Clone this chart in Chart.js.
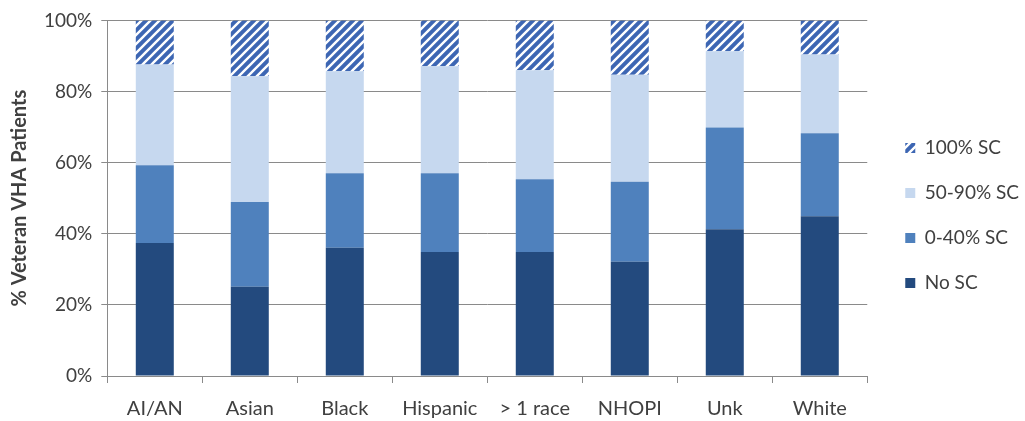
<!DOCTYPE html>
<html>
<head>
<meta charset="utf-8">
<script src="https://cdn.jsdelivr.net/npm/chart.js@4"></script>
<style>
  html, body { margin: 0; padding: 0; background: #fff; }
  #wrap { width: 1025px; height: 421px; }
</style>
</head>
<body>
<div id="wrap"><canvas id="scChart"></canvas></div>
<script>
const categories = ['AI/AN', 'Asian', 'Black', 'Hispanic', '> 1 race', 'NHOPI', 'Unk', 'White'];
const noSC = [37.4, 25.1, 36.1, 34.9, 34.9, 32.1, 41.3, 44.9];
const sc0to40 = [21.9, 23.8, 20.9, 22.1, 20.4, 22.5, 28.6, 23.4];
const sc50to90 = [28.3, 35.4, 28.7, 30.1, 30.7, 30.1, 21.4, 22.1];
const sc100 = [12.4, 15.7, 14.3, 12.9, 14.0, 15.3, 8.7, 9.6];
const yTicks = [0, 20, 40, 60, 80, 100];

// diagonal hatch used for the 100% SC series
function hatchPattern() {
  const s = 9;
  const c = document.createElement('canvas');
  c.width = s; c.height = s;
  const g = c.getContext('2d');
  g.fillStyle = '#3d66b3';
  g.fillRect(0, 0, s, s);
  g.strokeStyle = '#ffffff';
  g.lineWidth = 2.4;
  g.beginPath();
  g.moveTo(0, s); g.lineTo(s, 0);
  g.moveTo(-3, 3); g.lineTo(3, -3);
  g.moveTo(s - 3, s + 3); g.lineTo(s + 3, s - 3);
  g.stroke();
  return g.createPattern(c, 'repeat');
}

// widen the legend box on its left side so the plot ends earlier,
// and lift the legend block a little
const legendGap = {
  id: 'legendGap',
  beforeUpdate(chart) {
    const lg = chart.legend;
    if (lg && !lg._gapPatched) {
      const fit = lg.fit;
      lg.fit = function () { fit.call(this); this.width += 12; };
      lg._gapPatched = true;
    }
  },
  afterLayout(chart) {
    const lg = chart.legend;
    if (!lg) return;
    lg.left += 12;
    lg.top -= 8;
    lg.bottom -= 8;
  }
};

const font = 'Lato, "Open Sans", sans-serif';
const textColor = '#404040';

new Chart(document.getElementById('scChart').getContext('2d'), {
  type: 'bar',
  data: {
    labels: categories,
    datasets: [
      { label: 'No SC', data: noSC, backgroundColor: '#234a7e' },
      { label: '0-40% SC', data: sc0to40, backgroundColor: '#4f81bd' },
      { label: '50-90% SC', data: sc50to90, backgroundColor: '#c6d8ef' },
      { label: '100% SC', data: sc100, backgroundColor: hatchPattern() }
    ]
  },
  plugins: [legendGap],
  options: {
    responsive: true,
    maintainAspectRatio: false,
    animation: false,
    layout: { padding: { top: 12, left: 8, right: -4, bottom: -14 } },
    datasets: { bar: { categoryPercentage: 1, barPercentage: 0.4 } },
    plugins: {
      tooltip: { enabled: false },
      legend: {
        position: 'right',
        reverse: true,
        labels: {
          boxWidth: 10,
          boxHeight: 10,
          padding: 26,
          color: textColor,
          font: { family: font, size: 19 }
        }
      }
    },
    scales: {
      x: {
        stacked: true,
        grid: { display: true, drawOnChartArea: false, drawTicks: true, tickLength: 7, color: '#8a8a8a', offset: true },
        border: { display: true, color: '#8a8a8a' },
        ticks: { color: textColor, font: { family: font, size: 20, lineHeight: 1 }, padding: 16, maxRotation: 0 }
      },
      y: {
        stacked: true,
        min: 0,
        max: 100,
        afterBuildTicks: axis => { axis.ticks = yTicks.map(v => ({ value: v })); },
        grid: { color: '#8a8a8a', tickLength: 6 },
        border: { display: true, color: '#8a8a8a' },
        ticks: {
          color: textColor,
          font: { family: font, size: 19 },
          padding: 9,
          callback: v => v + '%'
        },
        title: {
          display: true,
          text: '% Veteran VHA Patients',
          color: textColor,
          font: { family: font, size: 20, weight: 'bold' },
          padding: { top: 0, bottom: 3 }
        }
      }
    }
  }
});
</script>
</body>
</html>
